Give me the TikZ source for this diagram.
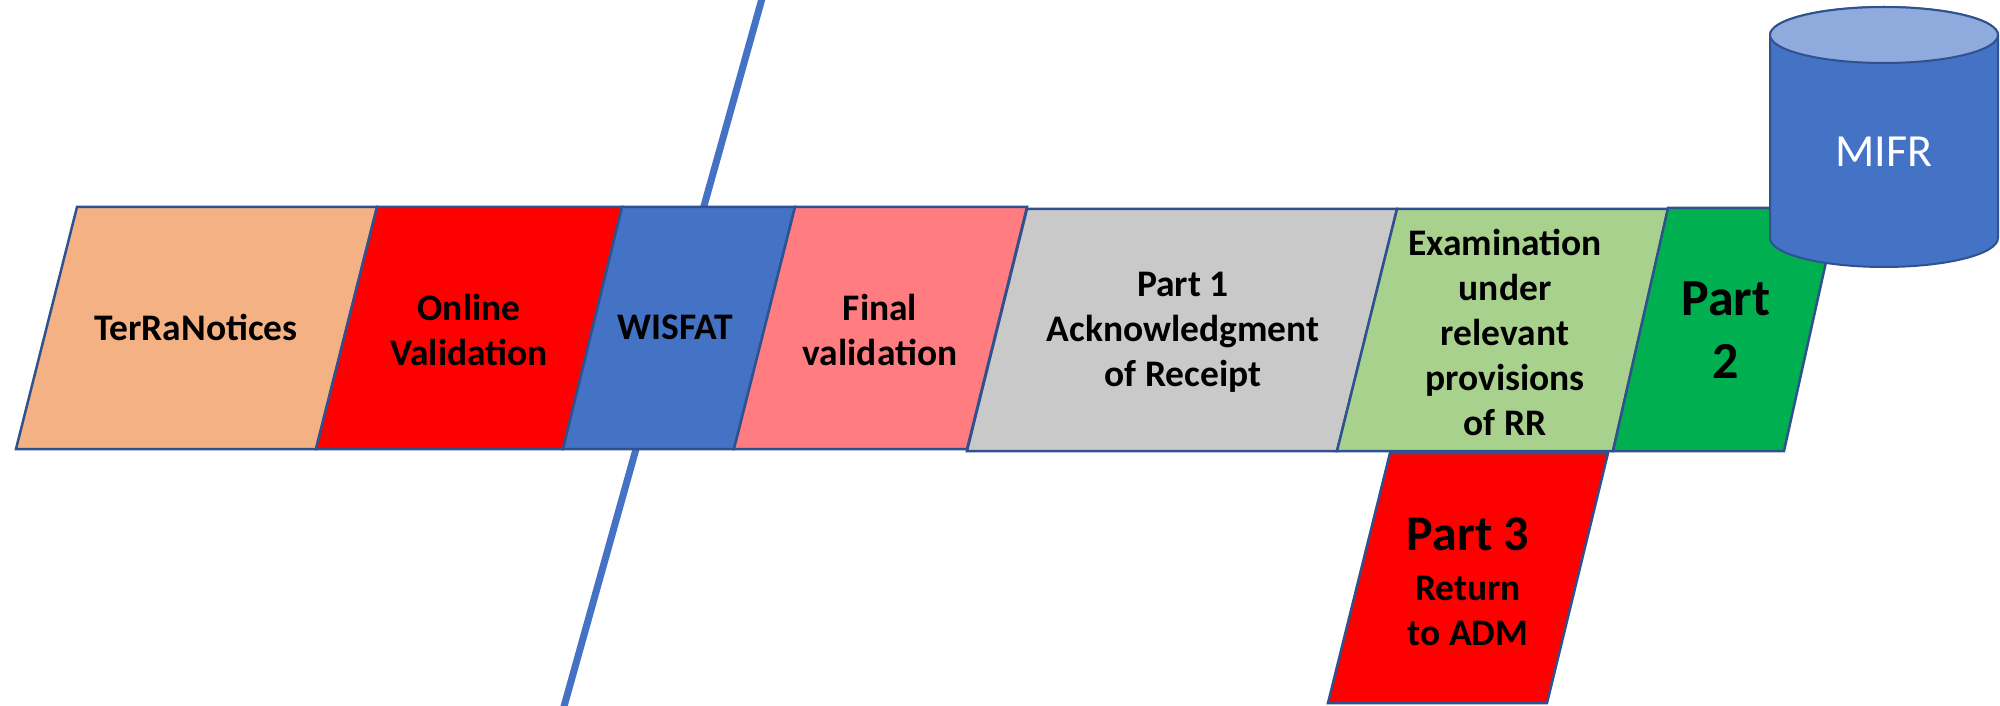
\documentclass[tikz,border=0pt]{standalone}
\usepackage{fontspec}
\setmainfont{Carlito}
\definecolor{edgeblue}{HTML}{2F528F}
\definecolor{accent}{HTML}{4472C4}
\definecolor{terra}{HTML}{F4B183}
\definecolor{pinkred}{HTML}{FF7C80}
\definecolor{partgray}{HTML}{C9C9C9}
\definecolor{examgreen}{HTML}{A9D18E}
\definecolor{partgreen}{HTML}{00B050}
\definecolor{cyltop}{HTML}{8FAADC}
\begin{document}
\begin{tikzpicture}[x=1pt,y=1pt,
  stage/.style={draw=edgeblue,line width=2.5pt,line join=miter},
  lbl/.style={font=\bfseries\fontsize{37.5}{45}\selectfont,align=center,inner sep=0pt,text=black}]
\useasboundingbox (0,0) rectangle (2000,705);
% separator line
\coordinate (lineTop) at (763,710);
\coordinate (lineBot) at (563,-5);
\draw[accent,line width=7pt] (lineTop) -- (lineBot);
% stages
\filldraw[stage,fill=terra] (77,498) -- (377,498) -- (316,256) -- (16,256) -- cycle;
\filldraw[stage,fill=red] (377,498) -- (622,498) -- (563,256) -- (316,256) -- cycle;
\filldraw[stage,fill=accent] (622,498) -- (795,498) -- (734,256) -- (563,256) -- cycle;
\filldraw[stage,fill=pinkred] (795,498) -- (1027,498) -- (967,256) -- (734,256) -- cycle;
\filldraw[stage,fill=partgray] (1027,496) -- (1397,496) -- (1337,254) -- (967,254) -- cycle;
\filldraw[stage,fill=examgreen] (1397,496) -- (1668,496) -- (1613,254) -- (1337,254) -- cycle;
\filldraw[stage,fill=partgreen] (1668,497) -- (1838,497) -- (1784,254) -- (1613,254) -- cycle;
\filldraw[stage,fill=red] (1390,252) -- (1608,252) -- (1547,2) -- (1328,2) -- cycle;
% cylinder
\filldraw[draw=edgeblue,line width=2pt,fill=accent] (1770,670) -- (1770,467)
  arc[start angle=180,end angle=360,x radius=114,y radius=29] -- (1998,670)
  arc[start angle=0,end angle=180,x radius=114,y radius=28] -- cycle;
\filldraw[draw=edgeblue,line width=2pt,fill=cyltop] (1884,670) ellipse[x radius=114,y radius=28];
% labels
\node[lbl] (terra) at (196,378) {TerRaNotices};
\node[lbl] (online) at (469,375) {Online\\Validation};
\node[lbl] (wisfat) at (675,378) {WISFAT};
\node[lbl] (final) at (880,375) {Final\\validation};
\node[lbl] (part1) at (1183,373) {Part 1\\Acknowledgment\\of Receipt};
\node[lbl] (exam) at (1505,373) {Examination\\under\\relevant\\provisions\\of RR};
\node[lbl,font=\bfseries\fontsize{52}{63}\selectfont] (part2) at (1726,375) {Part\\2};
\node[lbl] (part3) at (1468,123) {{\fontsize{50}{50}\selectfont Part 3}\\[5pt]Return\\to ADM};
\node[font=\fontsize{46}{50}\selectfont,text=white,inner sep=0pt] (mifr) at (1884,553) {MIFR};
\end{tikzpicture}
\end{document}
